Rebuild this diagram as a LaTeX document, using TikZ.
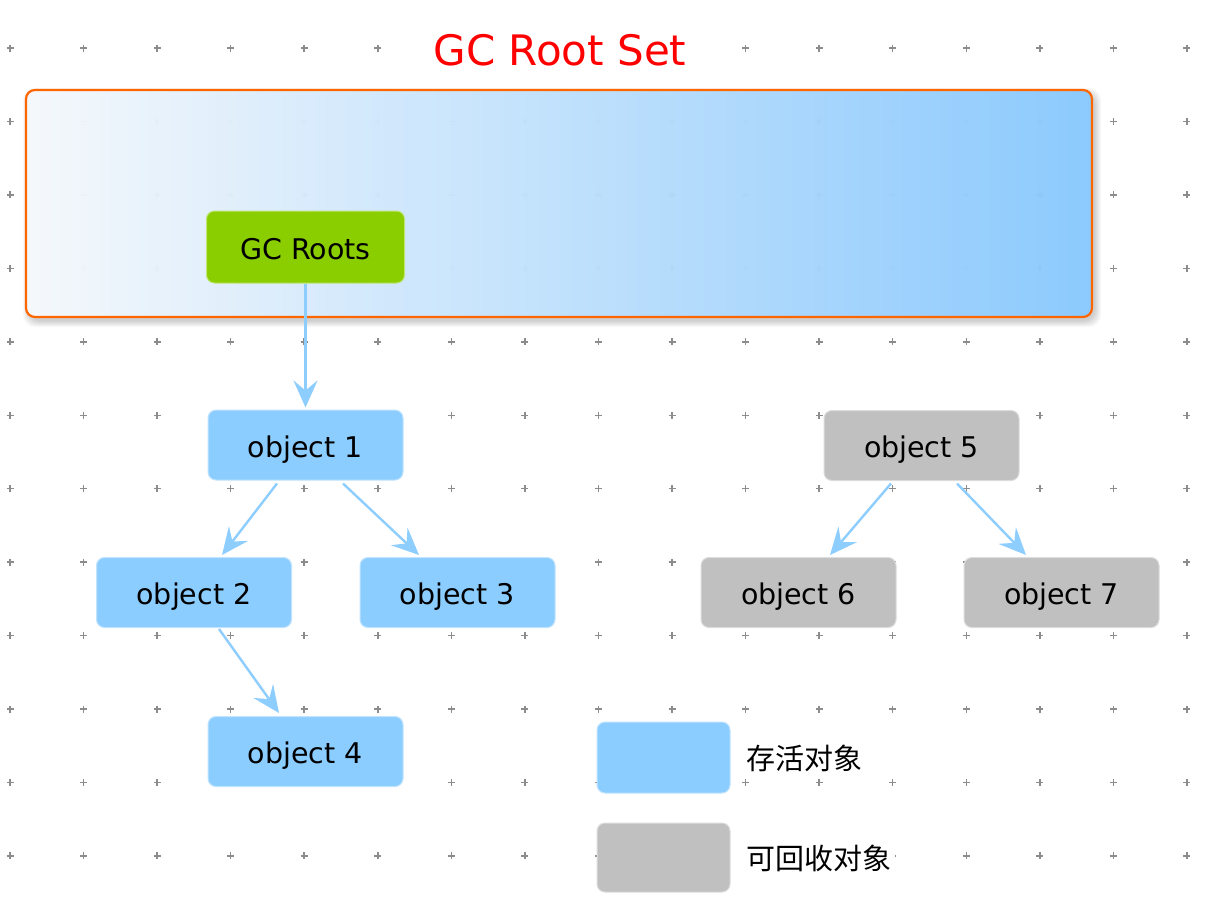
\documentclass[tikz,border=0pt]{standalone}
\usepackage{fontspec}
\setmainfont{DejaVu Sans}
\newfontfamily\cjk{Noto Sans CJK SC}
\usetikzlibrary{arrows.meta}
\definecolor{liveblue}{RGB}{140,205,255}
\definecolor{deadgray}{RGB}{192,192,192}
\definecolor{rootgreen}{RGB}{138,206,0}
\definecolor{setorange}{RGB}{255,102,0}
\definecolor{arrowblue}{RGB}{142,206,255}
\definecolor{setleft}{RGB}{247,250,253}
\definecolor{setmid}{RGB}{200,228,253}
\definecolor{setright}{RGB}{138,202,255}
\newcommand{\mygridgray}{black!45}

\begin{document}
\begin{tikzpicture}[x=1pt,y=-1pt,
  gridmark/.style={draw=\mygridgray, line width=1.5pt},
  objbox/.style={rounded corners=8pt, minimum width=195pt, minimum height=70pt,
    inner sep=0pt, line width=1pt, text height=26pt, text depth=2pt,
    font=\fontsize{28.5}{32}\selectfont},
  objlive/.style={objbox, fill=liveblue, draw=liveblue!55!white},
  objdead/.style={objbox, fill=deadgray, draw=deadgray!55!white},
  rootbox/.style={objbox, fill=rootgreen, draw=rootgreen!55!white,
    minimum width=198pt, minimum height=72pt},
  rootset/.style={rounded corners=9pt, draw=setorange, line width=2.2pt,
    left color=setleft, middle color=setmid, right color=setright, fill opacity=.96,
    minimum width=1066pt, minimum height=227pt},
  setshadow/.style={fill=black, fill opacity=.028, rounded corners=12pt},
  settitle/.style={fill=white, text=red, minimum width=345pt, inner sep=2pt,
    font=\fontsize{42}{48}\selectfont},
  keytext/.style={fill=white, inner sep=4pt, anchor=west, font=\cjk\fontsize{29}{34}\selectfont},
  refarrow/.style={draw=arrowblue, line width=2.4pt,
    -{Stealth[length=27pt, width=24pt, inset=10pt]}}]
\useasboundingbox (0,0) rectangle (1206,906);
\fill[white] (0,0) rectangle (1206,906);
% dot grid
\foreach \i in {0,...,16}
  \foreach \j in {0,...,11}
    \draw[gridmark] (10+73.56*\i-3.5, 48+73.45*\j) -- ++(7,0)
                    (10+73.56*\i, 48+73.45*\j-3.5) -- ++(0,7);
% root set, soft shadow first
\foreach \k in {0,...,6}
  \fill[setshadow] (26+3-\k,90+4-\k) rectangle (1092+3+\k,317+4+\k);
\node[rootset] (set) at (559,203.5) {};
\node[settitle] (title) at (560,50) {GC Root Set};
\node[rootbox] (roots) at (305.5,247) {GC Roots};
% objects
\node[objlive] (o1) at (305.5,445) {object 1};
\node[objlive] (o2) at (194,592.5) {object 2};
\node[objlive] (o3) at (457.5,592.5) {object 3};
\node[objlive] (o4) at (305.5,751.5) {object 4};
\node[objdead] (o5) at (921.5,445.5) {object 5};
\node[objdead] (o6) at (798.5,592.5) {object 6};
\node[objdead] (o7) at (1061.5,592.5) {object 7};
% references
\draw[refarrow] (roots.south) -- ([yshift=2pt]o1.north);
\draw[refarrow] ([xshift=-28.5pt,yshift=-3pt]o1.south) -- ([xshift=28pt,yshift=2pt]o2.north);
\draw[refarrow] ([xshift=37.5pt,yshift=-3pt]o1.south) -- ([xshift=-38.5pt,yshift=2pt]o3.north);
\draw[refarrow] ([xshift=25pt,yshift=-1pt]o2.south) -- ([xshift=-26.5pt,yshift=3pt]o4.north);
\draw[refarrow] ([xshift=-30.5pt,yshift=-2.5pt]o5.south) -- ([xshift=31.5pt,yshift=2pt]o6.north);
\draw[refarrow] ([xshift=35.5pt,yshift=-2.5pt]o5.south) -- ([xshift=-35.5pt,yshift=2pt]o7.north);
% legend
\node[objlive, minimum width=133pt, minimum height=71pt] (keylive) at (663.5,757.5) {};
\node[objdead, minimum width=133pt, minimum height=69pt] (keydead) at (663.5,857.5) {};
\node[keytext] (keylivetext) at (742,758) {存活对象};
\node[keytext] (keydeadtext) at (742,858) {可回收对象};
\end{tikzpicture}
\end{document}
